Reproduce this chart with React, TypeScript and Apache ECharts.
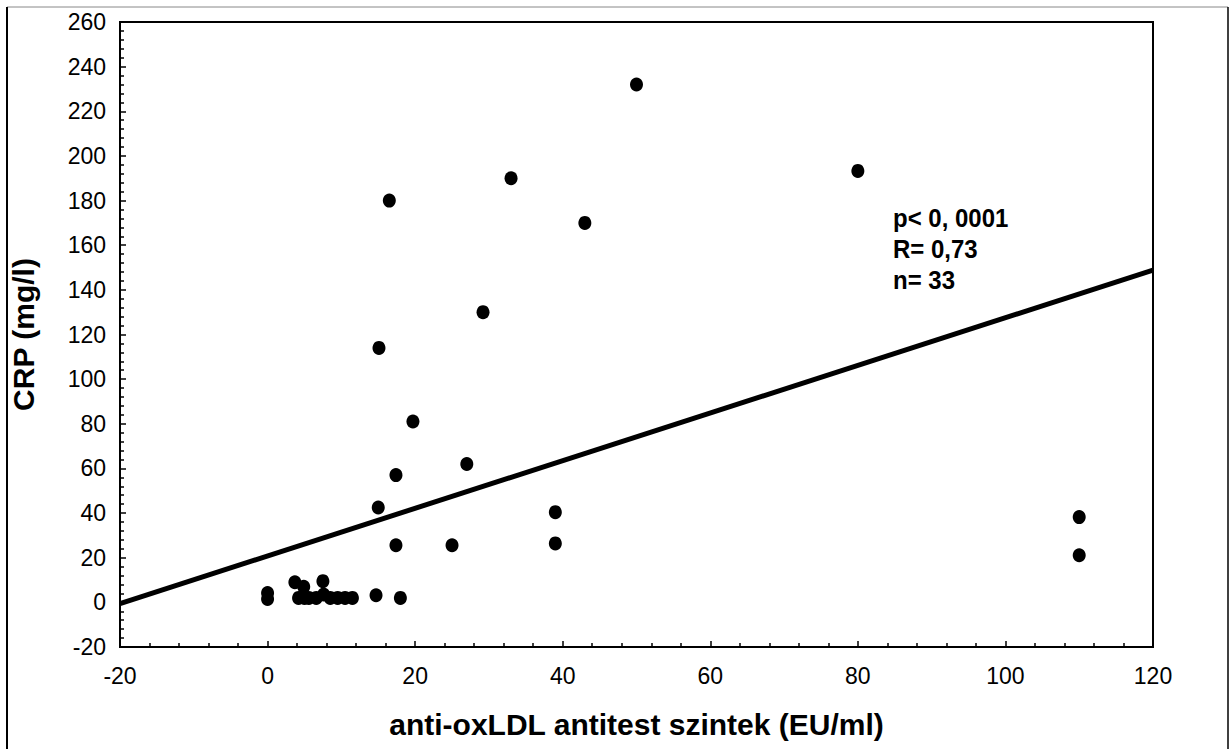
import React, { useEffect, useRef } from "react";
import * as echarts from "echarts";

// Data
const antiOxLDL: number[] = [
  0, 0, 3.7, 4.9, 7.5, 4.2, 5.0, 5.6, 6.6, 7.6, 8.5, 9.5, 10.5, 11.5, 14.7, 18,
  15, 15.1, 16.5, 17.4, 17.4, 19.7, 25, 27, 29.2, 33, 39, 39, 43, 50, 80, 110, 110,
];
const crp: number[] = [
  1.5, 4.2, 9, 7, 9.5, 2, 2, 2, 2, 3.5, 2, 2, 2, 2, 3.2, 2,
  42.5, 114, 180, 57, 25.6, 81, 25.6, 62, 130, 190, 40.4, 26.4, 170, 232, 193.3, 38.2, 21.1,
];
const regIntercept = 20.8;
const regSlope = 1.067;
const regXRange: number[] = [-20, 120];
const statLines: string[] = ["p< 0, 0001", "R= 0,73", "n= 33"];
const xTitle = "anti-oxLDL antitest szintek (EU/ml)";
const yTitle = "CRP (mg/l)";

const FONT = "'Liberation Sans', Arial, Helvetica, sans-serif";

export default function App() {
  const ref = useRef<HTMLDivElement>(null);
  useEffect(() => {
    if (!ref.current) return;
    const chart = echarts.init(ref.current, null, { renderer: "svg" });
    const points = antiOxLDL.map((x, i) => [x, crp[i]]);
    const reg = regXRange.map((x) => [x, regIntercept + regSlope * x]);
    const axisCommon = {
      type: "value" as const,
      interval: 20,
      axisLine: { show: true, onZero: false, lineStyle: { color: "#000", width: 2 } },
      axisTick: { show: true, inside: true, length: 6, lineStyle: { color: "#000", width: 1.5 } },
      minorTick: { show: true, splitNumber: 5, length: 4, lineStyle: { color: "#000", width: 1.5 } },
      splitLine: { show: false },
      minorSplitLine: { show: false },
    };
    chart.setOption({
      animation: false,
      backgroundColor: "#fff",
      grid: {
        left: 117,
        right: 78,
        top: 22,
        bottom: 102,
        show: true,
        borderColor: "#000",
        borderWidth: 2,
        backgroundColor: "transparent",
      },
      xAxis: {
        ...axisCommon,
        min: -20,
        max: 120,
        axisLabel: { color: "#000", fontSize: 23, fontFamily: FONT, margin: 17 },
        name: xTitle,
        nameLocation: "middle",
        nameGap: 62,
        nameTextStyle: { color: "#000", fontSize: 30, fontWeight: "bold", fontFamily: FONT },
      },
      yAxis: {
        ...axisCommon,
        min: -20,
        max: 260,
        axisLabel: { color: "#000", fontSize: 23, fontFamily: FONT, margin: 14 },
        name: yTitle,
        nameLocation: "middle",
        nameGap: 82,
        nameTextStyle: { color: "#000", fontSize: 30, fontWeight: "bold", fontFamily: FONT },
      },
      series: [
        {
          type: "line",
          data: reg,
          symbol: "none",
          lineStyle: { color: "#000", width: 5 },
          silent: true,
          z: 2,
        },
        {
          type: "scatter",
          data: points,
          symbol: "circle",
          symbolSize: [13, 14],
          itemStyle: { color: "#000", opacity: 1 },
          z: 3,
        },
      ],
      graphic: [
        { type: "line", shape: { x1: 7, y1: 7, x2: 1228, y2: 7 }, style: { stroke: "#888", lineWidth: 1 } },
        { type: "line", shape: { x1: 7, y1: 7, x2: 7, y2: 749 }, style: { stroke: "#000", lineWidth: 2 } },
        { type: "line", shape: { x1: 1228, y1: 7, x2: 1228, y2: 749 }, style: { stroke: "#000", lineWidth: 1.5 } },
        ...statLines.map((t, i) => ({
          type: "text",
          x: 893,
          y: 218 + i * 31,
          scaleY: 1.1,
          style: {
            text: t,
            fill: "#000",
            font: `bold 24px ${FONT}`,
            align: "left",
            verticalAlign: "middle",
          },
        })),
      ],
    });
    return () => chart.dispose();
  }, []);
  return (
    <div
      ref={ref}
      style={{ position: "absolute", left: 0, top: 0, width: 1231, height: 749 }}
    />
  );
}
